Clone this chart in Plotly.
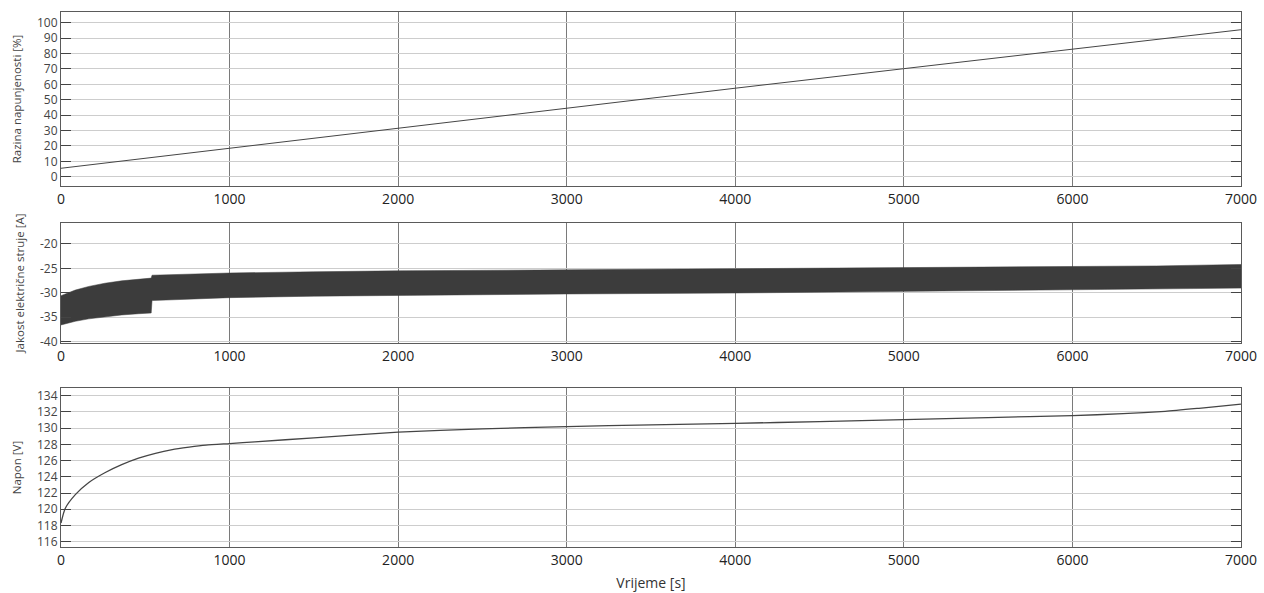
import plotly.graph_objects as go
from plotly.subplots import make_subplots

# ---- data ----
soc_t = [0, 1000, 2000, 3000, 4000, 5000, 6000, 7000]
soc_pct = [5.5, 18.6, 31.6, 44.6, 57.5, 70.2, 83.0, 95.5]

cur_t = [0, 40, 85, 165, 260, 360, 460, 535, 540, 750, 1000, 1500, 2000, 3000, 4000, 5000, 6000, 6500, 7000]
cur_upper = [-30.6, -30.0, -29.45, -28.7, -28.05, -27.55, -27.2, -27.0, -26.4, -26.15, -25.95, -25.7, -25.5,
             -25.3, -25.1, -24.95, -24.75, -24.5, -24.2]
cur_lower = [-36.6, -36.2, -35.85, -35.35, -34.9, -34.55, -34.3, -34.15, -31.6, -31.35, -31.0, -30.7, -30.5,
             -30.25, -30.05, -29.75, -29.4, -29.25, -29.05]

volt_t = [0, 25, 85, 165, 260, 360, 460, 560, 660, 760, 860, 1000, 1150, 1500, 2000, 2500, 3000,
          3500, 4000, 4500, 5000, 5500, 6000, 6300, 6550, 6750, 7000]
volt_v = [118.3, 120.1, 121.8, 123.3, 124.5, 125.5, 126.3, 126.9, 127.35, 127.65, 127.9, 128.1,
          128.32, 128.8, 129.5, 129.9, 130.2, 130.4, 130.6, 130.8, 131.05, 131.3, 131.55, 131.78,
          132.08, 132.45, 132.95]

x_ticks = [0, 1000, 2000, 3000, 4000, 5000, 6000, 7000]
y1_ticks = list(range(0, 101, 10))
y2_ticks = [-40, -35, -30, -25, -20]
y3_ticks = list(range(116, 135, 2))

y1_title = "Razina napunjenosti [%]"
y2_title = "Jakost električne struje [A]"
y3_title = "Napon [V]"
x_title = "Vrijeme [s]"

FONT = "Open Sans"

fig = make_subplots(rows=3, cols=1)

fig.add_trace(go.Scatter(x=soc_t, y=soc_pct, mode="lines",
                         line=dict(color="#454545", width=1), showlegend=False), row=1, col=1)

fig.add_trace(go.Scatter(x=cur_t, y=cur_upper, mode="lines", line_shape="linear",
                         line=dict(color="#3c3c3c", width=0.5), showlegend=False), row=2, col=1)
fig.add_trace(go.Scatter(x=cur_t, y=cur_lower, mode="lines", fill="tonexty",
                         fillcolor="#3c3c3c",
                         line=dict(color="#3c3c3c", width=0.5), showlegend=False), row=2, col=1)

fig.add_trace(go.Scatter(x=volt_t, y=volt_v, mode="lines", line_shape="spline",
                         line=dict(color="#454545", width=1.3, smoothing=0.6), showlegend=False), row=3, col=1)

domains = [[0.6748, 1.0], [0.3813, 0.6056], [0.0, 0.2972]]
ranges = [[-6, 107], [-40.3, -15.7], [115.35, 134.95]]
yticks = [y1_ticks, y2_ticks, y3_ticks]
ytitles = [y1_title, y2_title, y3_title]

for i in range(3):
    xa = "xaxis" if i == 0 else f"xaxis{i+1}"
    ya = "yaxis" if i == 0 else f"yaxis{i+1}"
    fig.layout[xa].update(
        domain=[0, 1], range=[0, 7000], tickvals=x_ticks,
        showgrid=True, gridcolor="#7a7a7a", gridwidth=1,
        showline=True, linecolor="#5a5a5a", linewidth=1, mirror=True,
        ticks="", zeroline=False, automargin=False,
        tickfont=dict(family=FONT, size=14, color="#222222"),
    )
    fig.layout[ya].update(
        domain=domains[i], range=ranges[i], tickvals=yticks[i],
        ticktext=[str(v) for v in yticks[i]],
        showgrid=True, gridcolor="#cdcdcd", gridwidth=1,
        showline=True, linecolor="#5a5a5a", linewidth=1, mirror="ticks",
        ticks="inside", ticklen=10, tickcolor="#444444", zeroline=False,
        automargin=False,
        tickfont=dict(family=FONT, size=12, color="#444444"),
        title=dict(text=ytitles[i], font=dict(family=FONT, size=11.5, color="#444444"), standoff=12),
    )

fig.layout.xaxis3.title = dict(text=x_title, font=dict(family=FONT, size=14, color="#333333"), standoff=10)

fig.update_layout(
    width=1264, height=593,
    margin=dict(l=61, r=23, t=12, b=46),
    paper_bgcolor="white", plot_bgcolor="white",
    font=dict(family=FONT),
    showlegend=False,
)

fig.write_html("out.html", config={"displayModeBar": False},
               post_script="document.body.style.margin='0';document.body.style.overflow='hidden';")
